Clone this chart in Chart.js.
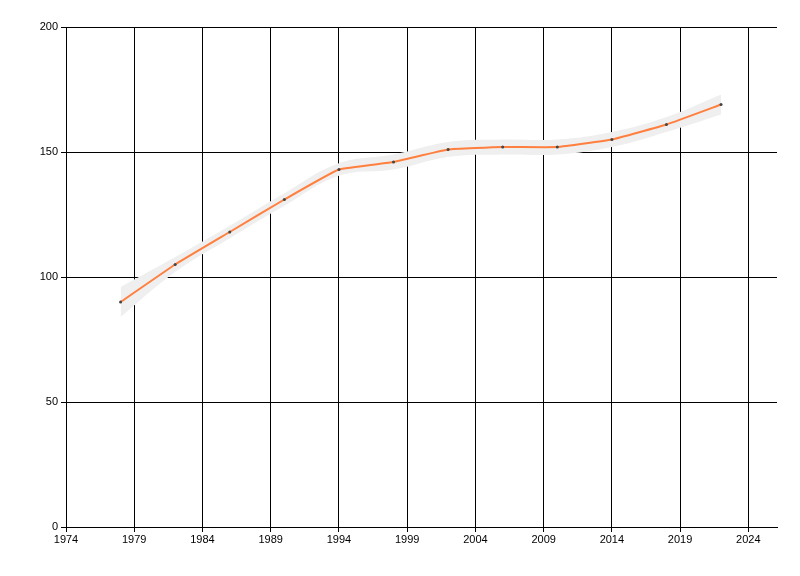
<!DOCTYPE html>
<html>
<head>
<meta charset="utf-8">
<script src="https://cdn.jsdelivr.net/npm/chart.js@4"></script>
<style>
  body { margin: 0; background: #fff; }
</style>
</head>
<body>
<canvas id="lineChart" width="800" height="576"></canvas>
<script>
// Values
const years = [1978, 1982, 1986, 1990, 1994, 1998, 2002, 2006, 2010, 2014, 2018, 2022];
const values = [90, 105, 118, 131, 143, 146, 151, 152, 152, 155, 161, 169];
const upper = [96, 108, 120.5, 133.5, 145.5, 149, 154, 155, 155, 158, 164, 173];
const lower = [84, 102, 115.5, 128.5, 140.5, 143, 148, 149, 149, 152, 158, 165];
const xTicks = [1974, 1979, 1984, 1989, 1994, 1999, 2004, 2009, 2014, 2019, 2024];
const yTicks = [0, 50, 100, 150, 200];

const pts = arr => arr.map((v, i) => ({ x: years[i], y: v }));

Chart.defaults.font.family = '"Liberation Sans", Arial, sans-serif';
Chart.defaults.font.size = 11;
Chart.defaults.color = '#000';

const lineChart = new Chart(document.getElementById('lineChart'), {
  type: 'line',
  data: {
    datasets: [
      {
        data: pts(values),
        borderColor: '#ff7f3f',
        borderWidth: 2,
        tension: 0.1,
        pointRadius: 1.5,
        pointBackgroundColor: '#444',
        pointBorderWidth: 0,
        order: 0
      },
      {
        data: pts(upper),
        borderWidth: 0,
        backgroundColor: '#efefef',
        fill: '+1',
        tension: 0.4,
        pointRadius: 0,
        order: 1
      },
      {
        data: pts(lower),
        borderWidth: 0,
        fill: false,
        tension: 0.4,
        pointRadius: 0,
        order: 2
      }
    ]
  },
  options: {
    responsive: false,
    animation: false,
    layout: { padding: { top: 27, right: 23, left: 0, bottom: 0 } },
    plugins: { legend: { display: false }, tooltip: { enabled: false } },
    scales: {
      x: {
        type: 'linear',
        min: 1974,
        max: 2026.1,
        afterBuildTicks: axis => { axis.ticks = xTicks.map(v => ({ value: v })); },
        afterFit: axis => { axis.height = 49; },
        ticks: { callback: v => String(v), padding: 1, maxRotation: 0 },
        grid: { color: '#000', lineWidth: 1, tickLength: 5 },
        border: { color: '#000', width: 1 }
      },
      y: {
        min: 0,
        max: 200,
        afterBuildTicks: axis => { axis.ticks = yTicks.map(v => ({ value: v })); },
        afterFit: axis => { axis.width = 66; },
        ticks: { padding: 3 },
        grid: { color: '#000', lineWidth: 1, tickLength: 5 },
        border: { color: '#000', width: 1 }
      }
    }
  }
});
</script>
</body>
</html>
